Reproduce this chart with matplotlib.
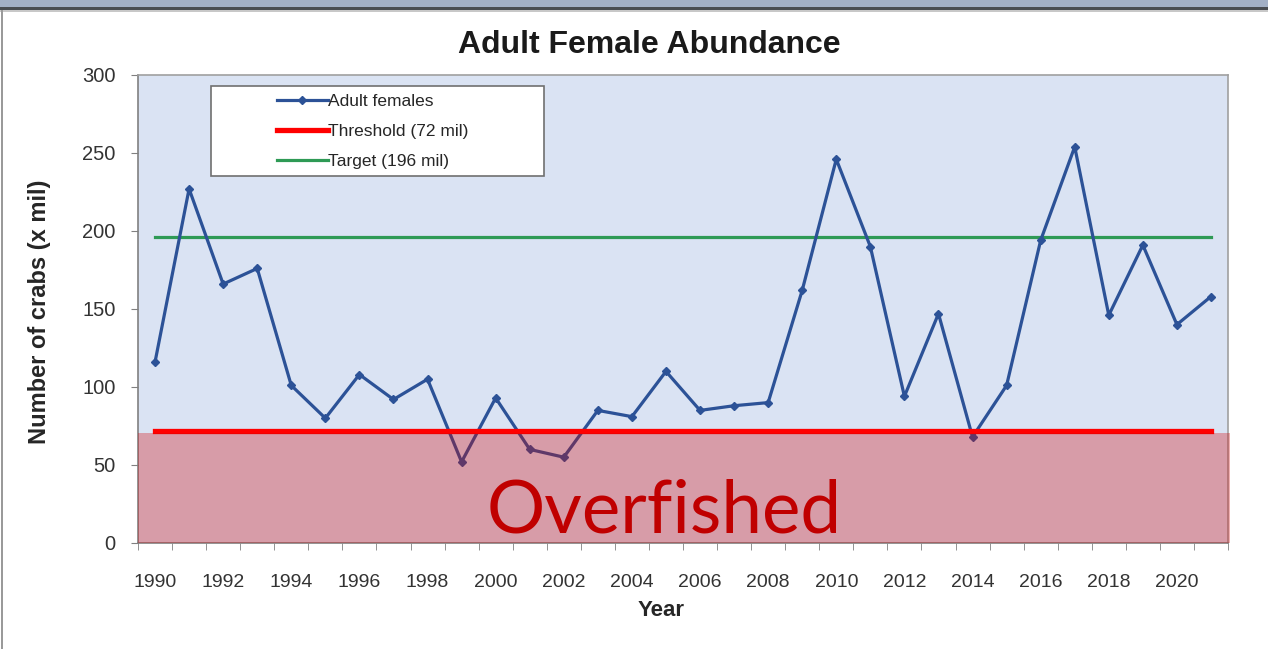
import matplotlib
matplotlib.use("Agg")
import matplotlib.pyplot as plt
from matplotlib.patches import Rectangle
import numpy as np

years = list(range(1990, 2022))
adult_females = [116, 227, 166, 176, 101, 80, 108, 92, 105, 52,
                 93, 60, 55, 85, 81, 110, 85, 88, 90, 162,
                 246, 190, 94, 147, 68, 101, 194, 254, 146, 191,
                 140, 158]
threshold = 72
target = 196
overfished_top = 70.5
tick_labels = [str(y) for y in years[::2]]

W, H = 1268, 649
fig = plt.figure(figsize=(W / 100, H / 100), dpi=100)
fig.patch.set_facecolor("white")

# window frame decorations
fig.add_artist(Rectangle((0, 1 - 7 / H), 1, 7 / H, transform=fig.transFigure,
                         facecolor="#a3b0c6", edgecolor="none"))
fig.add_artist(Rectangle((0, 1 - 10 / H), 1, 3 / H, transform=fig.transFigure,
                         facecolor="#4a4d52", edgecolor="none"))
fig.add_artist(Rectangle((0, 1 - 12 / H), 1, 2 / H, transform=fig.transFigure,
                         facecolor="#c8c8c8", edgecolor="none"))
fig.add_artist(Rectangle((1 / W, 0), 2 / W, 1 - 10 / H, transform=fig.transFigure,
                         facecolor="#9a9a9a", edgecolor="none"))

ax = fig.add_axes([138 / W, (H - 543) / H, 1090 / W, 468 / H])
ax.set_facecolor("#dae3f3")

x = np.arange(len(years))
ax.plot(x, adult_females, color="#2c5297", lw=2.3, marker="D", markersize=4.5,
        zorder=3, label="Adult females")
ax.plot([x[0], x[-1]], [threshold, threshold], color="#ff0000", lw=3.8,
        zorder=4, label="Threshold (72 mil)")
ax.plot([x[0], x[-1]], [target, target], color="#2e9a55", lw=2.3,
        zorder=2, label="Target (196 mil)")

ax.add_patch(Rectangle((-0.5, 0), len(years) + 0.05, overfished_top,
                       facecolor="#d30003", alpha=0.31, edgecolor="none",
                       zorder=5, clip_on=False))
ax.text(14.95, 6.5, "Overfished", color="#c00000", fontsize=52.5,
        family="Lato", ha="center", va="baseline", zorder=6)

ax.set_xlim(-0.5, len(years) - 0.5)
ax.set_ylim(0, 300)
ax.set_xticks(x[::2])
ax.set_xticklabels(tick_labels)
ax.set_xticks(np.arange(-0.5, len(years)), minor=True)
ax.tick_params(axis="x", which="major", length=0, pad=22, labelsize=14,
               labelcolor="#333333")
ax.tick_params(axis="x", which="minor", length=5, direction="out", color="#808080")
ax.set_yticks(range(0, 301, 50))
ax.tick_params(axis="y", length=5, direction="out", color="#808080",
               labelsize=14.5, labelcolor="#333333", pad=11)
for lab in ax.get_xticklabels() + ax.get_yticklabels():
    lab.set_family("Liberation Sans")

for s in ["top", "right"]:
    ax.spines[s].set_color("#a0a0a0")
    ax.spines[s].set_linewidth(1.2)
for s in ["left", "bottom"]:
    ax.spines[s].set_color("#808080")
    ax.spines[s].set_linewidth(1.2)

fig.text(649 / W, 1 - 45 / H, "Adult Female Abundance", ha="center", va="center",
         fontsize=23, fontweight="bold", family="Liberation Sans", color="#1a1a1a")
fig.text(661 / W, 1 - 611 / H, "Year", ha="center", va="center",
         fontsize=16, fontweight="bold", family="Liberation Sans", color="#262626")
fig.text(40 / W, 1 - 312 / H, "Number of crabs (x mil)", ha="center", va="center",
         rotation=90, fontsize=17, fontweight="bold", family="Liberation Sans",
         color="#262626")

# legend box
ax.add_patch(Rectangle((211 / W, 1 - 176 / H), 333 / W, 90 / H,
                       transform=fig.transFigure, facecolor="white",
                       edgecolor="#707070", lw=1.2, zorder=7, clip_on=False))
leg = ax.legend(loc="upper left", bbox_to_anchor=(265 / W, 1 - 82 / H),
                bbox_transform=fig.transFigure, frameon=False,
                prop={"family": "Liberation Sans", "size": 12.5},
                handlelength=2.9, handletextpad=0.05, labelspacing=0.84,
                borderpad=0.2)
leg.set_zorder(8)
for t in leg.get_texts():
    t.set_color("#262626")
for h in leg.legend_handles:
    if h.get_marker() not in (None, "None", ""):
        h.set_markersize(4)

fig.savefig("out.png", dpi=100)
